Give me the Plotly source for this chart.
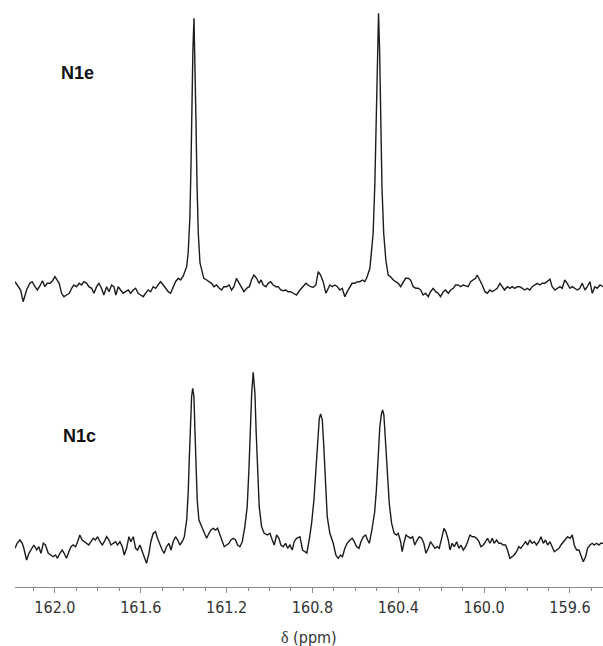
import plotly.graph_objects as go

# ---------------- data ----------------
# N1e spectrum: chemical shift (ppm) and intensity (a.u., baseline = 0)
n1e_ppm = [
    162.186, 162.171, 162.160, 162.148, 162.132, 162.117, 162.106, 162.093, 162.082, 162.070,
    162.058, 162.047, 162.036, 162.023, 162.011, 162.000, 161.989, 161.980, 161.969, 161.958,
    161.946, 161.933, 161.922, 161.912, 161.899, 161.887, 161.876, 161.865, 161.852, 161.842,
    161.829, 161.818, 161.806, 161.795, 161.783, 161.772, 161.759, 161.748, 161.736, 161.725,
    161.716, 161.705, 161.694, 161.682, 161.671, 161.658, 161.647, 161.635, 161.624, 161.612,
    161.601, 161.588, 161.578, 161.565, 161.554, 161.542, 161.531, 161.519, 161.508, 161.495,
    161.484, 161.472, 161.461, 161.449, 161.438, 161.425, 161.414, 161.402,
    161.386, 161.379, 161.371, 161.366, 161.362, 161.357, 161.352, 161.348, 161.343, 161.338,
    161.332, 161.324, 161.314,
    161.306, 161.293, 161.281, 161.270, 161.259, 161.247, 161.234, 161.223, 161.213, 161.200,
    161.188, 161.177, 161.166, 161.154, 161.141, 161.130, 161.119, 161.107, 161.094, 161.084,
    161.073, 161.060, 161.049, 161.039, 161.029, 161.017, 161.006, 160.995, 160.983, 160.970,
    160.959, 160.948, 160.936, 160.924, 160.913, 160.902, 160.889, 160.874,
    160.858, 160.843, 160.830, 160.820, 160.809, 160.796, 160.784, 160.773, 160.762, 160.750,
    160.737, 160.726, 160.719, 160.708, 160.695, 160.684, 160.672, 160.661, 160.649, 160.638,
    160.625, 160.615, 160.602, 160.591, 160.579, 160.566, 160.556, 160.545,
    160.532, 160.517, 160.509, 160.501, 160.496, 160.492, 160.487, 160.482, 160.476, 160.468,
    160.458,
    160.447, 160.436, 160.423, 160.413, 160.400, 160.389, 160.377, 160.366, 160.354, 160.343,
    160.330, 160.318, 160.307, 160.296, 160.284, 160.273, 160.260, 160.250, 160.237, 160.226,
    160.214, 160.203, 160.190, 160.180, 160.167, 160.156, 160.144, 160.133, 160.121, 160.110,
    160.097, 160.086, 160.074, 160.063, 160.051, 160.040, 160.032, 160.020, 160.009, 159.996,
    159.985, 159.973, 159.962, 159.950, 159.939, 159.926, 159.916, 159.905, 159.892, 159.880,
    159.869, 159.857, 159.846, 159.833, 159.822, 159.810, 159.799, 159.787, 159.776, 159.763,
    159.752, 159.740, 159.729, 159.717, 159.706, 159.693, 159.683, 159.670, 159.659, 159.647,
    159.636, 159.624, 159.613, 159.600, 159.589, 159.577, 159.566, 159.554, 159.543, 159.530,
    159.519, 159.507, 159.496, 159.484, 159.473, 159.460, 159.446,
]
n1e_int = [
    4.3, -0.7, -4, -15.7, -4, 2.7, 4.3, -0.7, -4, 0,
    5.3, -0.7, 2.7, 2.7, 5.3, 9.3, 6, 2.7, -7.3, -10.7,
    -9, -7.3, -2.3, 1, -0.7, 2.7, 1, 4.3, 2.7, -0.7,
    -2.3, -7.3, -0.7, 2.7, -2.3, -9, -0.7, -5.7, 1, -0.7,
    -9, -0.7, -4, -7.3, -5.7, -4, -7.3, -4, -2.3, -7.3,
    -9, -10.7, -7.3, -4, -5.7, -0.7, -2.3, 1, 4.3, 1,
    -2.3, -5.7, -7.3, -0.7, 4.3, 7.7, 6, 10,
    19.3, 33, 69.3, 119.3, 186, 236, 267.7, 236, 169.3, 103,
    53, 23, 13,
    7.7, 6, 4.3, 2.7, -0.7, 1, -2.3, -4, -0.7, -0.7,
    1, -4, -0.7, 7.7, 2.7, -2.3, -5.7, -2.3, -0.7, 6,
    11, 7.7, 2.7, 6, 1, -0.7, 2.7, 4.3, 1, -0.7,
    -0.7, -4, -4.7, -4, -5.7, -5.7, -7.3, -9,
    -4, 0, 2.7, 1, -0.7, -1.3, 1, 14.3, 11, 4.3,
    -7.3, -2.3, 1, -0.7, 1, -0.7, -4, -2.3, -10.7, -5.7,
    -0.7, 2.7, 2.7, 4.3, 4.3, 6, 4.3, 9.3,
    18, 53, 103, 186, 236, 272.7, 236, 169.3, 99.3, 53,
    26,
    11, 9.3, 6, 4.3, 2.7, -0.7, 4.3, 7.7, 7.7, 6,
    -0.7, -2.3, -2.3, -4, -9, -7.3, -10.7, -5.7, -2.3, -5.7,
    -7.3, -10.7, -5.7, -4, -7.3, -4, -2.3, 1, 1, -0.7,
    1, 0, -0.7, 4.3, 6, 7.7, 11, 6, 1, -5.7,
    -7.3, -4, -5.7, -4, -2.3, 2.7, -0.7, -4, -0.7, -2.3,
    -0.7, -2.3, -0.7, -0.7, -2.3, -4, -2.3, -4, -0.7, 1,
    2.7, 1, 2.7, 2.7, 4.3, 6.7, -0.7, -4, -2.3, -0.7,
    -2.3, 6, 2.7, -2.3, -0.7, -2.3, -4, -2.3, 2.7, -4,
    -0.7, 4.3, -7.3, -0.7, -2.3, 1, -0.7,
]

# N1c spectrum: chemical shift (ppm) and intensity (a.u., baseline = 0)
n1c_ppm = [
    162.186, 162.176, 162.163, 162.152, 162.145, 162.132, 162.121, 162.109, 162.098, 162.085,
    162.075, 162.065, 162.054, 162.044, 162.031, 162.020, 162.008, 161.997, 161.988, 161.977,
    161.966, 161.957, 161.946, 161.935, 161.925, 161.915, 161.904, 161.894, 161.884, 161.873,
    161.863, 161.852, 161.842, 161.832, 161.821, 161.811, 161.801, 161.790, 161.779, 161.770,
    161.759, 161.748, 161.739, 161.728, 161.717, 161.708, 161.697, 161.686, 161.677, 161.666,
    161.655, 161.646, 161.635, 161.624, 161.615, 161.604, 161.593, 161.584, 161.573, 161.562,
    161.553, 161.542, 161.531, 161.522, 161.511, 161.500, 161.491, 161.480, 161.469, 161.459,
    161.449, 161.438, 161.428, 161.418, 161.407, 161.397,
    161.386, 161.379, 161.374, 161.368, 161.363, 161.358, 161.352, 161.348, 161.343, 161.337,
    161.329,
    161.313, 161.304, 161.293, 161.282, 161.273, 161.262, 161.251, 161.242, 161.231, 161.220,
    161.211, 161.200, 161.189, 161.180, 161.169, 161.158, 161.149, 161.138, 161.127,
    161.115, 161.104, 161.096, 161.090, 161.083, 161.076, 161.068, 161.062, 161.055, 161.048,
    161.037, 161.025,
    161.009, 160.998, 160.987, 160.978, 160.967, 160.956, 160.947, 160.936, 160.925, 160.916,
    160.905, 160.894, 160.885, 160.874, 160.858,
    160.846, 160.835, 160.826,
    160.815, 160.804, 160.793, 160.784, 160.776, 160.768, 160.762, 160.754, 160.747, 160.739,
    160.731, 160.719, 160.703, 160.691,
    160.680, 160.669, 160.660, 160.649, 160.638, 160.625, 160.615, 160.605, 160.594, 160.583,
    160.574, 160.563, 160.552, 160.543, 160.535,
    160.523, 160.510, 160.502, 160.494, 160.486, 160.478, 160.473, 160.467, 160.459, 160.452,
    160.442, 160.431,
    160.419, 160.408, 160.400, 160.389, 160.382, 160.372, 160.364, 160.354, 160.343, 160.333,
    160.323, 160.312, 160.302, 160.291, 160.281, 160.271, 160.260, 160.250, 160.240, 160.229,
    160.218, 160.209, 160.198, 160.187, 160.178, 160.167, 160.159, 160.149, 160.139, 160.128,
    160.117, 160.108, 160.097, 160.086, 160.077, 160.066, 160.055, 160.046, 160.035, 160.024,
    160.015, 160.004, 159.993, 159.984, 159.973, 159.962, 159.953, 159.942, 159.931, 159.922,
    159.911, 159.900, 159.891, 159.880, 159.869, 159.860, 159.849, 159.838, 159.829, 159.818,
    159.807, 159.797, 159.787, 159.776, 159.766, 159.756, 159.745, 159.735, 159.724, 159.714,
    159.704, 159.693, 159.683, 159.673, 159.662, 159.651, 159.642, 159.631, 159.620, 159.611,
    159.600, 159.589, 159.580, 159.569, 159.558, 159.549, 159.538, 159.527, 159.518, 159.507,
    159.496, 159.487, 159.476, 159.465, 159.456, 159.446,
]
n1c_int = [
    -3.3, 1.7, 5, 1.7, -3.3, -15, -8.3, -3.3, 0, -5,
    -1.7, -8.3, 1.7, 0, -8.3, -10, -11.7, -10, -13.3, -8.3,
    -5, -8.3, -13.3, -6.7, -1.7, 0, -1.7, 3.3, 10, 5,
    3.3, 1.7, 0, 3.3, 6.7, 5, 8.3, 3.3, 0, 3.3,
    8.3, 5, 0, 1.7, 3.3, 0, 3.3, -1.7, -10, -3.3,
    8.3, 3.3, 8.3, -3.3, -5, 0, -6.7, -11.7, -18.3, -8.3,
    3.3, 11.7, 13.3, 6.7, 0, -5, -8.3, -1.7, 1.7, -5,
    3.3, 8.3, 5, 0, 3.3, 8.3,
    25, 51.7, 85, 125, 148.3, 156.7, 148.3, 118.3, 78.3, 45,
    25,
    16.7, 13.3, 6.7, 11.7, 15, 16.7, 15, 16.7, 10, 5,
    -1.7, 0, 1.7, 5, 6.7, 5, 0, -1.7, 3.3,
    18.3, 38.3, 75, 118.3, 151.7, 172.7, 151.7, 111.7, 68.3, 38.3,
    18.3, 11.7,
    10, 11.7, 5, 0, 10, 6.7, 0, -1.7, 1.7, -3.3,
    0, -5, 3.3, 6.7, 8.3,
    -5, -6.7, -8,
    5, 21.7, 45, 78.3, 108.3, 126.7, 131, 125, 98.3, 58.3,
    28.3, 11.7, 1.7, -10,
    -13.3, -10, -11.7, -3.3, 1.7, 5, 6.7, 3.3, -1.7, -3.3,
    3.3, 8.3, 10, 5, 1.7,
    15, 33, 55, 91.7, 118.3, 131.7, 135, 130, 101.7, 68.3,
    41.7, 21.7,
    11.7, 10, 11.7, 3.3, -6.7, 3.3, 10, 8.3, 6.7, 8.3,
    0, 5, 8.3, 6.7, 1.7, -8.3, -3.3, 3.3, 0, -3.3,
    -1.7, -3.3, 6.7, 16.7, 13.3, 5, -5, 1.7, -1.7, 3.3,
    -3.3, 0, -5, -1.7, 3.3, 10, 8.3, 8.3, 6.7, 3.3,
    -1.7, 0, 3.3, 6.7, 1.7, 6.7, 1.7, 5, 1.7, 1.7,
    0, 0, -5, -13.3, -11.7, -10, -6.7, -1.7, -3.3, 0,
    3.3, 0, 5, 1.7, 3.3, 0, 3.3, 8.3, 1.7, 5,
    0, 3.3, -1.7, -6.7, -5, -3.3, 0, 3.3, 6.7, 8.3,
    6.7, 10, 0, -5, -5, -10, -16.7, -11.7, -3.3, 0,
    1.7, 0, 1.7, 0, 1.7, 1.7,
]

spectrum_labels = ["N1e", "N1c"]
x_range = [162.186, 159.446]
major_tick0 = 159.6
major_dtick = 0.4
minor_dtick = 0.1
x_title = "δ (ppm)"

# ---------------- figure ----------------
line_style = dict(color="#1c1c1c", width=1.4)
fig = go.Figure()
fig.add_trace(go.Scatter(x=n1c_ppm, y=n1c_int, mode="lines", line=line_style,
                         yaxis="y", showlegend=False, hoverinfo="skip"))
fig.add_trace(go.Scatter(x=n1e_ppm, y=n1e_int, mode="lines", line=line_style,
                         yaxis="y2", showlegend=False, hoverinfo="skip"))

axis_grey = "#8a8a8a"
fig.update_layout(
    width=603, height=646,
    margin=dict(l=15, r=0, t=0, b=59),
    paper_bgcolor="white", plot_bgcolor="white",
    xaxis=dict(
        range=x_range, tickmode="linear", tick0=major_tick0, dtick=major_dtick,
        tickformat=".1f", ticks="outside", ticklen=5, tickwidth=1, tickcolor=axis_grey,
        showline=True, linecolor=axis_grey, linewidth=1,
        showgrid=False, zeroline=False, ticklabelstandoff=1,
        tickfont=dict(family="DejaVu Sans Condensed, DejaVu Sans", size=16, color="#333333"),
        minor=dict(tickmode="linear", tick0=major_tick0, dtick=minor_dtick,
                   ticks="outside", ticklen=3, tickwidth=1, tickcolor=axis_grey, showgrid=False),
    ),
    yaxis=dict(range=[-42, 545], visible=False, fixedrange=True),
    yaxis2=dict(range=[-301, 286], overlaying="y", visible=False, fixedrange=True),
    annotations=[
        dict(text="<b>%s</b>" % spectrum_labels[0], xref="paper", yref="paper",
             x=0.107, y=0.875, xanchor="center", yanchor="middle", showarrow=False,
             font=dict(family="Liberation Sans, Arial", size=18, color="#111111")),
        dict(text="<b>%s</b>" % spectrum_labels[1], xref="paper", yref="paper",
             x=0.109, y=0.257, xanchor="center", yanchor="middle", showarrow=False,
             font=dict(family="Liberation Sans, Arial", size=18, color="#111111")),
        dict(text="<span style=\"font-family:'Liberation Serif'\">δ</span> (ppm)",
             xref="paper", yref="paper", x=0.5, y=-0.0852,
             xanchor="center", yanchor="middle", showarrow=False,
             font=dict(family="DejaVu Sans Condensed, DejaVu Sans", size=16, color="#333333")),
    ],
)

fig.write_html(
    "out.html",
    config={"displayModeBar": False, "staticPlot": True},
    post_script="document.body.style.margin='0';document.body.style.overflow='hidden';",
)
